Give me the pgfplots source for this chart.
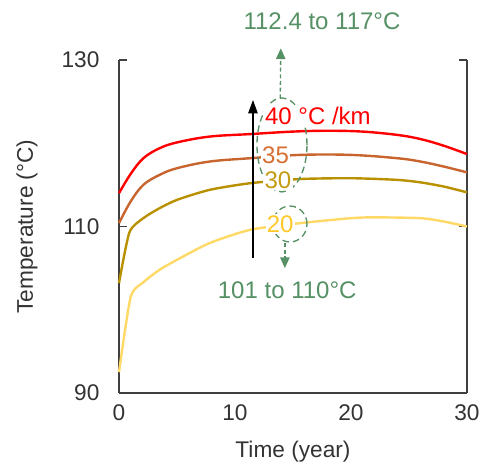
\documentclass[border=0pt]{standalone}
\usepackage{fontspec}
\setmainfont{Liberation Sans}
\usepackage{pgfplots}
\pgfplotsset{compat=1.18}
\usetikzlibrary{arrows.meta}

\definecolor{grad40}{RGB}{255,0,0}
\definecolor{grad35}{RGB}{200,100,45}
\definecolor{grad30}{RGB}{185,145,0}
\definecolor{grad20}{RGB}{255,217,102}
\definecolor{txt35}{RGB}{215,110,50}
\definecolor{txt30}{RGB}{195,155,20}
\definecolor{txt20}{RGB}{255,200,40}
\definecolor{note}{RGB}{85,145,100}
\definecolor{axgray}{RGB}{64,64,64}

\newcommand\lblfont{\fontsize{17}{20}\selectfont}
\newcommand\notefont{\fontsize{18}{22}\selectfont}

\begin{document}
\begin{tikzpicture}
\begin{axis}[
    scale only axis,
    width=261pt, height=249.75pt,
    xmin=0, xmax=30, ymin=90, ymax=130,
    xtick={0,10,20,30}, ytick={90,110,130},
    axis x line=bottom, axis y line=box,
    axis line style={axgray, line width=1.1pt, -},
    x axis line style={-}, y axis line style={-},
    tick align=inside,
    major tick length=6pt,
    xtick style={draw=none},
    ytick style={axgray, line width=1.1pt},
    yticklabel pos=left,
    /pgf/number format/assume math mode=true,
    every tick label/.append style={font=\lblfont, text=black!80},
    yticklabel style={anchor=east, inner sep=0pt, xshift=-14.5pt},
    xticklabel style={anchor=base, inner sep=0pt, yshift=-21pt},
    xlabel={Time (year)},
    ylabel={Temperature (°C)},
    every axis x label/.style={at={(rel axis cs:0.5,0)}, anchor=center, yshift=-44pt, font=\lblfont, text=black!80},
    every axis y label/.style={at={(rel axis cs:0,0.5)}, anchor=center, rotate=90, yshift=69pt, font=\lblfont, text=black!80},
    clip=false,
]
\addplot[grad20, line width=1.8pt, smooth, tension=0.4] coordinates {
 (0,92.5) (1,101.5) (2.1,103.3) (3.5,104.8) (5,106.0) (7.8,108.0) (11.3,109.6)
 (15.6,110.4) (20,111.0) (22,111.1) (26,111.0) (28,110.6) (30,110.0)};
\addplot[grad30, line width=1.8pt, smooth, tension=0.4] coordinates {
 (0,103.2) (0.9,109.3) (2.1,111.0) (3.5,112.2) (5,113.2) (7.8,114.4) (11.3,115.2)
 (15.6,115.7) (20,115.8) (24,115.6) (26,115.3) (28,114.8) (30,114.1)};
\addplot[grad35, line width=1.8pt, smooth, tension=0.6] coordinates {
 (0,110.4) (1,113.0) (2.1,115.0) (3.5,116.2) (5,117.0) (7.8,117.8) (11.3,118.2)
 (15.6,118.6) (20,118.6) (24,118.2) (26,117.8) (28,117.2) (30,116.5)};
\addplot[grad40, line width=1.8pt, smooth, tension=0.6] coordinates {
 (0,114.0) (1,116.3) (2.1,118.2) (3.5,119.4) (5,120.1) (7.8,120.8) (11.3,121.1)
 (15,121.4) (18,121.5) (21,121.4) (24,121.0) (26,120.5) (28,119.7) (30,118.7)};

\coordinate (bl) at (axis cs:0,90);

% black arrow
\draw[black, line width=1.1pt, -{Triangle[length=10pt,width=7pt]}]
    (axis cs:11.55,106.2) -- (axis cs:11.55,125.2);
% dashed ellipses and arrows
\draw[note, line width=1pt, dash pattern=on 5pt off 3pt]
    (axis cs:14.05,119.8) ellipse [x radius=18.75pt, y radius=35.25pt];
\draw[note, line width=1pt, dash pattern=on 5pt off 3pt]
    (axis cs:14.74,110.3) ellipse [x radius=12.75pt, y radius=13.5pt];
\draw[note, line width=1pt, dash pattern=on 3pt off 2pt, -{Triangle[length=8pt,width=7pt]}]
    (axis cs:13.9,125.4) -- (axis cs:13.95,131.4);
\draw[note, line width=1pt, dash pattern=on 3pt off 2pt, -{Triangle[length=8pt,width=7pt]}]
    (axis cs:14.3,108.0) -- (axis cs:14.3,105.0);

\node[note, font=\notefont] at (axis cs:17.5,134.6) {112.4 to 117°C};
\node[note, font=\notefont] at (axis cs:14.5,102.4) {101 to 110°C};

\node[grad40, fill=white, inner sep=1pt, font=\notefont] at (axis cs:17.15,123.3) {40 °C /km};
\node[txt35, fill=white, inner sep=1pt, font=\notefont] at (axis cs:13.5,118.6) {35};
\node[txt30, fill=white, inner sep=1pt, font=\notefont] at (axis cs:13.7,115.6) {30};
\node[txt20, fill=white, inner sep=1pt, font=\notefont] at (axis cs:13.9,110.3) {20};
\end{axis}
\path (bl) ++(-89.25pt,-54.75pt) rectangle ++(360pt,349.5pt);
\end{tikzpicture}
\end{document}
